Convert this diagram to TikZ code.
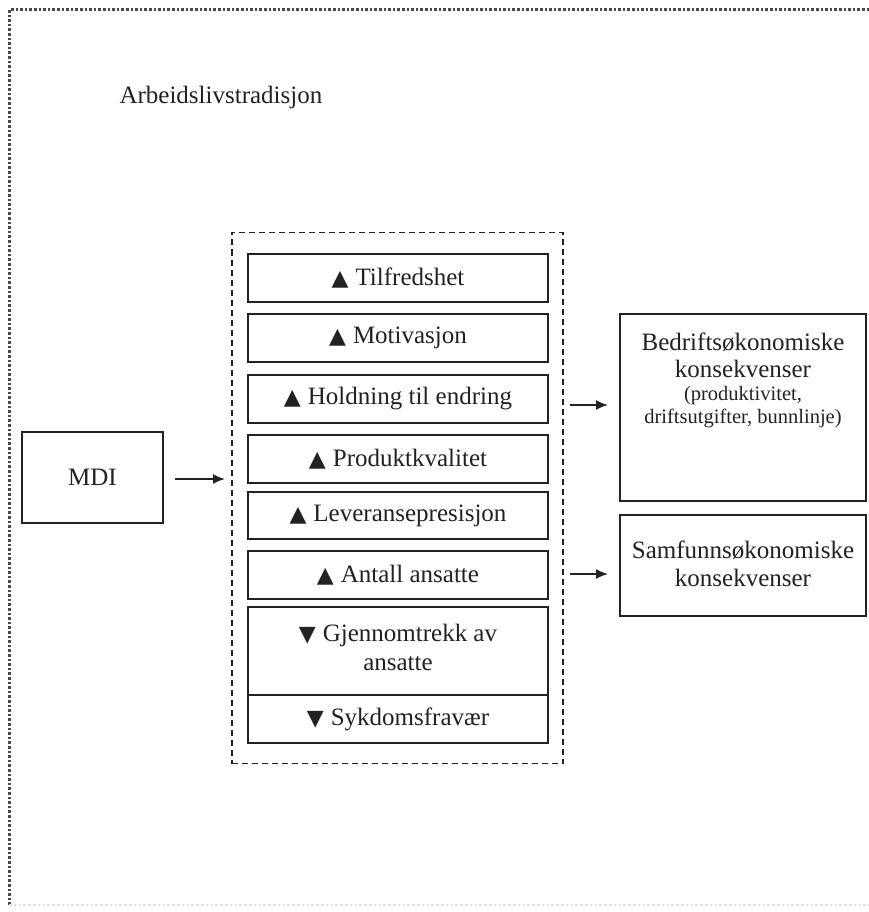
\documentclass[tikz,border=0pt]{standalone}
\usepackage{fontspec}
\setmainfont{Liberation Serif}
\newfontfamily\symfont{DejaVu Sans}
\usetikzlibrary{arrows.meta}
\definecolor{ink}{HTML}{222222}
\definecolor{frame}{HTML}{4a4a4a}
\newcommand{\up}{{\symfont\fontsize{22}{22}\selectfont ▲}\hspace{7pt}}
\newcommand{\dn}{{\symfont\fontsize{22}{22}\selectfont ▼}\hspace{7pt}}
\begin{document}
\begin{tikzpicture}[x=1pt,y=-1pt,
  box/.style={draw=ink,line width=1.8pt,fill=white,inner sep=0pt,align=center,
    text=ink,font=\fontsize{25}{29}\selectfont},
  itembox/.style={box,minimum width=300pt},
  conn/.style={draw=ink,line width=1.8pt,-{Latex[length=12pt,width=10pt]}},
  small/.style={font=\fontsize{20.5}{23}\selectfont}]
\useasboundingbox (0,0) rectangle (868,912);
\fill[white] (0,0) rectangle (868,912);
% outer dotted frame
\draw[frame,line width=3pt,dash pattern=on 2.6pt off 2pt] (9,905) -- (9,10) -- (870,10);
\draw[gray!25,line width=2pt,dash pattern=on 2.6pt off 2.2pt] (9,905) -- (870,905);
\node[text=ink,font=\fontsize{25}{29}\selectfont,anchor=west] (tradition) at (116,97) {Arbeidslivstradisjon};
% MDI
\node[box,minimum width=141pt,minimum height=91pt] (mdi) at (92.5,477.5) {MDI};
% dashed group
\node[draw=ink,line width=1.6pt,dash pattern=on 6pt off 4pt,minimum width=331pt,minimum height=531pt,inner sep=0pt] (group) at (397.5,498) {};
\node[itembox,minimum height=48pt] (i1) at (398,278) {\up Tilfredshet};
\node[itembox,minimum height=48pt] (i2) at (398,338) {\up Motivasjon};
\node[itembox,minimum height=48pt] (i3) at (398,399) {\up Holdning til endring};
\node[itembox,minimum height=48pt] (i4) at (398,459) {\up Produktkvalitet};
\node[itembox,minimum height=47pt] (i5) at (398,515.5) {\up Leveransepresisjon};
\node[itembox,minimum height=48pt] (i6) at (398,575) {\up Antall ansatte};
\node[itembox,minimum height=88pt] (i7) at (398,651) {};
\node[text=ink,font=\fontsize{25}{29}\selectfont,align=center] (i7t) at (398,647) {\dn Gjennomtrekk av\\ansatte};
\node[itembox,minimum height=48pt] (i8) at (398,719) {\dn Sykdomsfravær};
% outcome boxes
\node[box,minimum width=246pt,minimum height=187pt] (bed) at (743,407.5) {};
\node[text=ink,align=center,font=\fontsize{25}{27}\selectfont] (bedt1) at (743,355) {Bedriftsøkonomiske\\konsekvenser};
\node[text=ink,align=center,small] (bedt2) at (743,407) {(produktivitet,\\driftsutgifter, bunnlinje)};
\node[box,minimum width=246pt,minimum height=101pt] (sam) at (743,565.5) {};
\node[text=ink,align=center,font=\fontsize{25}{28}\selectfont] (samt) at (743,564) {Samfunnsøkonomiske\\konsekvenser};
% connectors
\coordinate (a1s) at (175,479);
\coordinate (a1e) at (225,479);
\draw[conn] (a1s) -- (a1e);
\coordinate (a2s) at (570,405);
\coordinate (a2e) at (608,405);
\draw[conn] (a2s) -- (a2e);
\coordinate (a3s) at (570,574);
\coordinate (a3e) at (608,574);
\draw[conn] (a3s) -- (a3e);
\end{tikzpicture}
\end{document}
